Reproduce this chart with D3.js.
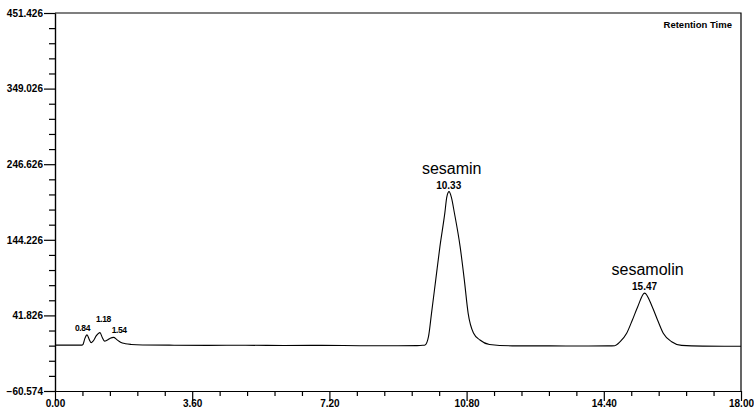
<!DOCTYPE html>
<html>
<head>
<meta charset="utf-8">
<script src="https://cdn.jsdelivr.net/npm/d3@7"></script>
<style>
  body { margin: 0; background: #fff; }
  svg { font-family: "Liberation Sans", Arial, sans-serif; }
  .axis text { font-size: 10px; font-weight: bold; fill: #000; }
  .axis path, .axis line { stroke: #000; stroke-width: 1.2; }
  .peak-label { font-size: 10px; font-weight: bold; }
  .small-label { font-size: 8.5px; font-weight: bold; letter-spacing: -0.4px; }
  .name-label { font-size: 16px; }
</style>
</head>
<body>
<div id="chart-container" style="width:754px;height:415px"></div>
<script>
// retention time (min) and detector signal
let times = [
  0.00, 0.70, 0.74, 0.78, 0.84, 0.90, 0.95, 1.00, 1.08, 1.18, 1.24, 1.30, 1.36, 1.45, 1.54,
  1.62, 1.72, 1.85, 2.00, 2.30, 3.00, 4.00, 5.00, 6.00, 7.00, 8.00, 9.00, 9.50, 9.65,
  9.71, 9.80, 9.88, 9.99, 10.10, 10.23, 10.28, 10.34, 10.40, 10.48, 10.63, 10.74, 10.84, 10.98,
  11.15, 11.40, 12.00, 13.00, 14.00, 14.50, 14.69, 14.83, 15.00, 15.15, 15.29, 15.47,
  15.67, 15.81, 15.96, 16.18, 16.44, 17.00, 18.00
];
let signal = [
  1.5, 1.5, 3, 10, 15.5, 9, 5, 7, 14, 18.5, 12, 7, 8, 11, 12,
  9, 5.5, 3.5, 2.5, 1.8, 1.5, 1.2, 1.4, 1.0, 1.2, 0.8, 0.8, 0.9, 1.3,
  1.7, 13, 45, 90, 135, 181, 202, 209.5, 202, 180.5, 135, 90, 45, 18,
  8.5, 2.5, 0.6, 0.5, 0.3, 0.5, 0.8, 6.2, 17.6, 35.6, 53.6, 72,
  53.6, 35.6, 17.6, 6.2, 1.2, 0.2, 0
];

let peakTimes = [0.84, 1.18, 1.54, 10.33, 15.47];
let peakHeights = [15.5, 18.5, 12, 209.5, 72];
let peakNames = ["", "", "", "sesamin", "sesamolin"];

let yTicks = [-60.574, 41.826, 144.226, 246.626, 349.026, 451.426];
let xTicks = [0, 3.6, 7.2, 10.8, 14.4, 18];

let containerId = 'chart-container',
    svg = d3.select(`#${containerId}`).append("svg").attr("width", 754).attr("height", 415),
    margin = { top: 13, right: 13, bottom: 24, left: 55 },
    width = +svg.attr("width") - margin.left - margin.right,
    height = +svg.attr("height") - margin.top - margin.bottom,
    g = svg.append("g").attr("transform", "translate(" + margin.left + "," + margin.top + ")");

let x = d3.scaleLinear().domain([0, 18]).range([0, width]),
    y = d3.scaleLinear().domain([yTicks[0], yTicks[yTicks.length - 1]]).range([height, 0]);

// minor ticks: 5 divisions between majors
let minor = (ticks) => d3.merge(ticks.slice(0, -1).map((t, i) =>
    d3.range(1, 5).map(k => t + (ticks[i + 1] - t) * k / 5)));

g.append("g")
    .attr("class", "axis")
    .call(d3.axisLeft(y).tickValues(minor(yTicks)).tickSize(6).tickSizeOuter(0).tickFormat(""));

g.append("g")
    .attr("class", "axis")
    .call(d3.axisLeft(y).tickValues(yTicks).tickSize(11).tickPadding(1).tickSizeOuter(0).tickFormat(d3.format(".3f")));

g.append("g")
    .attr("class", "axis")
    .attr("transform", "translate(0," + height + ")")
    .call(d3.axisBottom(x).tickValues(minor(xTicks)).tickSize(5).tickSizeOuter(0).tickFormat(""));

g.append("g")
    .attr("class", "axis")
    .attr("transform", "translate(0," + height + ")")
    .call(d3.axisBottom(x).tickValues(xTicks).tickSize(10).tickPadding(-1).tickSizeOuter(0).tickFormat(d3.format(".2f")));

// top and right frame
g.append("path")
    .attr("fill", "none")
    .attr("stroke", "#000")
    .attr("stroke-width", 1.2)
    .attr("d", `M0,0H${width}V${height}`);

g.append("text")
    .attr("x", width - 9)
    .attr("y", 15)
    .attr("text-anchor", "end")
    .attr("font-size", "9.5px")
    .attr("font-weight", "bold")
    .text("Retention Time");

let line = d3.line()
    .x((d, i) => x(times[i]))
    .y(d => y(d))
    .curve(d3.curveMonotoneX);

g.append("path")
    .datum(signal)
    .attr("fill", "none")
    .attr("stroke", "#000")
    .attr("stroke-width", 1.1)
    .attr("d", line);

peakTimes.forEach((t, i) => {
    let big = peakNames[i] !== "";
    if (big) {
        g.append("text")
            .attr("class", "peak-label")
            .attr("x", x(t))
            .attr("y", y(peakHeights[i]) - 3)
            .attr("text-anchor", "middle")
            .text(d3.format(".2f")(t));
        g.append("text")
            .attr("class", "name-label")
            .attr("x", x(t) + 3)
            .attr("y", y(peakHeights[i]) - 18)
            .attr("text-anchor", "middle")
            .text(peakNames[i]);
    } else {
        // the crowded early peaks: first label sits left, the others right, every second raised
        g.append("text")
            .attr("class", "small-label")
            .attr("x", i === 0 ? x(t) + 3 : x(t) - 4 + (i - 1) * 2)
            .attr("y", y(peakHeights[i]) - 4 - (i % 2 ? 7 : 0))
            .attr("text-anchor", i === 0 ? "end" : "start")
            .text(d3.format(".2f")(t));
    }
});
</script>
</body>
</html>
